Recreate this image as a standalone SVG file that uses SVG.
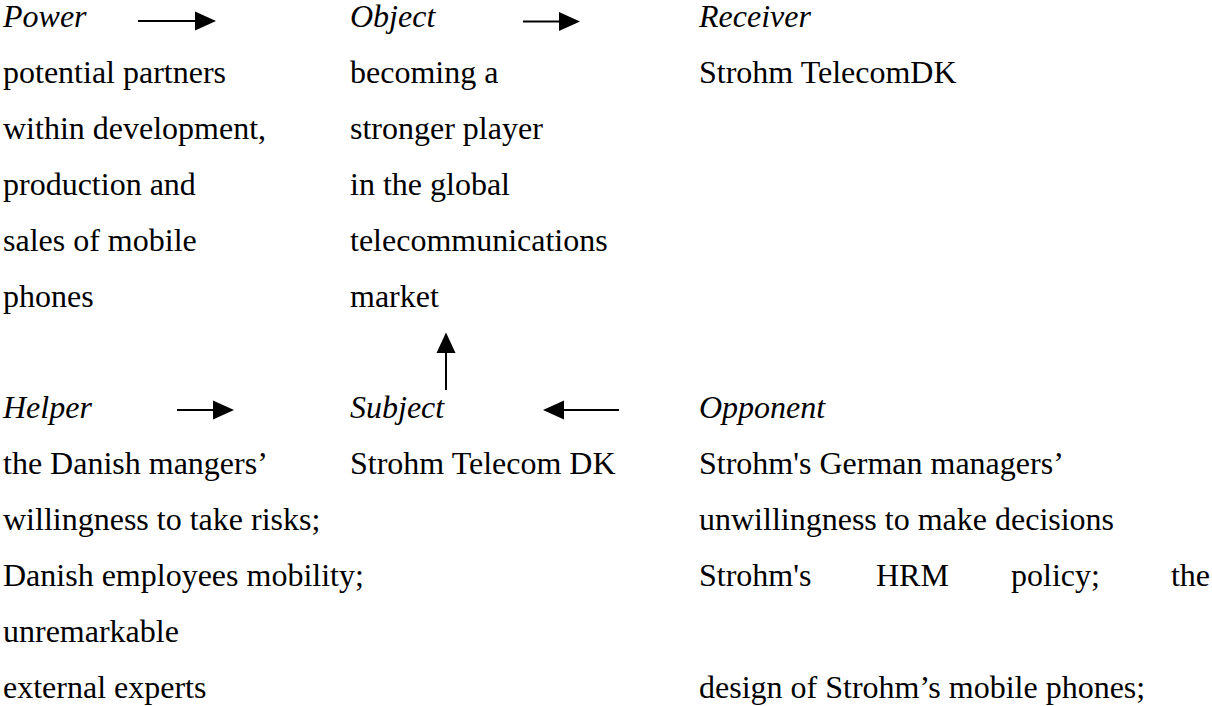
<svg xmlns="http://www.w3.org/2000/svg" width="1212" height="706" viewBox="0 0 1212 706">
<style>
text{font-family:"Liberation Serif","Times New Roman",serif;font-size:32px;fill:#000}
.h{font-style:italic}
.ln{stroke:#000;stroke-width:2;fill:none}
.hd{fill:#000;stroke:none}
</style>
<rect width="1212" height="706" fill="#fff"/>
<g id="power">
<text class="h" x="3" y="27">Power</text>
<text x="3" y="82.9">potential partners</text>
<text x="3" y="138.8">within development,</text>
<text x="3" y="194.7">production and</text>
<text x="3" y="250.6">sales of mobile</text>
<text x="3" y="306.5">phones</text>
</g>
<g id="object">
<text class="h" x="350" y="27">Object</text>
<text x="350" y="82.9">becoming a</text>
<text x="350" y="138.8">stronger player</text>
<text x="350" y="194.7">in the global</text>
<text x="350" y="250.6">telecommunications</text>
<text x="350" y="306.5">market</text>
</g>
<g id="receiver">
<text class="h" x="699" y="27">Receiver</text>
<text x="699" y="82.9">Strohm TelecomDK</text>
</g>
<g id="helper">
<text class="h" x="3" y="418.3">Helper</text>
<text x="3" y="474.2">the Danish mangers’</text>
<text x="3" y="530.1">willingness to take risks;</text>
<text x="3" y="586">Danish employees mobility;</text>
<text x="3" y="641.9">unremarkable</text>
<text x="3" y="697.8">external experts</text>
</g>
<g id="subject">
<text class="h" x="350" y="418.3">Subject</text>
<text x="350" y="474.2">Strohm Telecom DK</text>
</g>
<g id="opponent">
<text class="h" x="699" y="418.3">Opponent</text>
<text x="699" y="474.2">Strohm's German managers’</text>
<text x="699" y="530.1">unwillingness to make decisions</text>
<text x="699" y="586">Strohm's</text>
<text x="876" y="586">HRM</text>
<text x="1011" y="586">policy;</text>
<text x="1210" y="586" text-anchor="end">the</text>
<text x="699" y="697.8">design of Strohm’s mobile phones;</text>
</g>
<g id="connectors">
<line class="ln" x1="138" y1="21" x2="197" y2="21"/>
<polygon class="hd" points="195,11.5 216,21 195,30.5"/>
<line class="ln" x1="523" y1="21.5" x2="561" y2="21.5"/>
<polygon class="hd" points="559,12 580,21.5 559,31"/>
<line class="ln" x1="446" y1="390" x2="446" y2="351"/>
<polygon class="hd" points="436.5,353 446,332.5 455.5,353"/>
<line class="ln" x1="177" y1="410" x2="215" y2="410"/>
<polygon class="hd" points="213,400.5 234,410 213,419.5"/>
<line class="ln" x1="619" y1="410" x2="562" y2="410"/>
<polygon class="hd" points="564,400.5 543,410 564,419.5"/>
</g>
</svg>
